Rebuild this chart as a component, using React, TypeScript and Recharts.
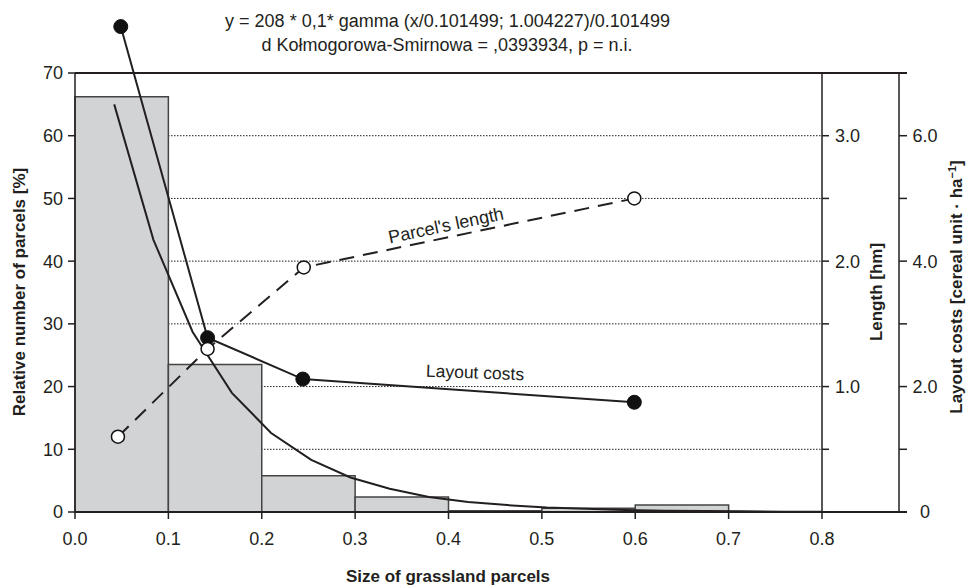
import React from "react";
import {
  ComposedChart,
  XAxis,
  YAxis,
  CartesianGrid,
  Line,
  ReferenceArea,
  ReferenceLine,
} from "recharts";

// axis ticks
const sizeTicks = [0, 0.1, 0.2, 0.3, 0.4, 0.5, 0.6, 0.7, 0.8];
const percentTicks = [0, 10, 20, 30, 40, 50, 60, 70];
const lengthTicks = [0, 0.5, 1, 1.5, 2, 2.5, 3, 3.5];
const lengthTickLabels = ["", "", "1.0", "", "2.0", "", "3.0", ""];
const costTicks = [0, 1, 2, 3, 4, 5, 6, 7];
const costTickLabels = ["0", "", "2.0", "", "4.0", "", "6.0", ""];

// histogram of parcel sizes
const binFrom = [0, 0.1, 0.2, 0.3, 0.4, 0.5, 0.6, 0.7];
const binTo = [0.1, 0.2, 0.3, 0.4, 0.5, 0.6, 0.7, 0.8];
const binPercent = [66.2, 23.5, 5.8, 2.4, 0.2, 0.6, 1.1, 0];

// fitted gamma curve
const fitSize = [0.042, 0.084, 0.126, 0.168, 0.21, 0.253, 0.295, 0.337, 0.379, 0.421, 0.463, 0.505, 0.547, 0.589, 0.632, 0.674, 0.716, 0.758, 0.8];
const fitPercent = [65, 43.4, 28.7, 19.0, 12.6, 8.3, 5.5, 3.7, 2.4, 1.6, 1.1, 0.7, 0.5, 0.3, 0.2, 0.15, 0.1, 0.05, 0.03];

// layout costs [cereal unit / ha]
const costSize = [0.049, 0.142, 0.244, 0.599];
const costValue = [7.74, 2.78, 2.12, 1.75];

// parcel length [hm]
const lengthSize = [0.046, 0.142, 0.245, 0.599];
const lengthValue = [0.6, 1.3, 1.95, 2.5];

const fitData = fitSize.map((s, i) => ({ size: s, percent: fitPercent[i] }));
const costData = costSize.map((s, i) => ({ size: s, cost: costValue[i] }));
const lengthData = lengthSize.map((s, i) => ({ size: s, length: lengthValue[i] }));

const W = 971;
const H = 588;
const PLOT_LEFT = 75;
const PLOT_RIGHT = 822;
const PLOT_BOTTOM = 512;
const TOP_70 = 73;
const TOP = PLOT_BOTTOM - ((PLOT_BOTTOM - TOP_70) * 80) / 70;
const xAt = (px: number) => (0.8 * (px - PLOT_LEFT)) / (PLOT_RIGHT - PLOT_LEFT);
const AXIS2 = xAt(899);
const FRAME_END = xAt(907);

const ink = "#231f20";
const tickFont = { fontSize: 18, fill: ink };
const tickLine = { stroke: ink, strokeWidth: 1.5 };

const abs = (left: number, top: number, extra: React.CSSProperties = {}): React.CSSProperties => ({
  position: "absolute",
  left,
  top,
  whiteSpace: "nowrap",
  transform: "translate(-50%, -50%)",
  ...extra,
});

function CostTick(props: any) {
  const { x, y, index } = props;
  return (
    <text x={x + 18} y={y} dy="0.355em" textAnchor="middle" fontSize={18} fill={ink}>
      {costTickLabels[index]}
    </text>
  );
}

export default function App() {
  return (
    <div
      style={{
        position: "absolute",
        left: 0,
        top: 0,
        width: W,
        height: H,
        fontFamily: "'Liberation Sans', Arial, sans-serif",
        color: ink,
        background: "#fff",
      }}
    >
      <ComposedChart width={W} height={H} margin={{ top: TOP, right: 0, bottom: 0, left: 0 }}>
        <XAxis
          xAxisId="x"
          type="number"
          dataKey="size"
          domain={[0, 0.8]}
          ticks={sizeTicks}
          tickFormatter={(v: number) => v.toFixed(1)}
          axisLine={false}
          tickLine={tickLine}
          tickSize={7}
          tickMargin={13}
          tick={tickFont}
          height={76}
          interval={0}
        />
        <YAxis
          yAxisId="a-left"
          type="number"
          domain={[0, 80]}
          allowDataOverflow
          ticks={percentTicks}
          axisLine={false}
          tickLine={tickLine}
          tickSize={7}
          tickMargin={5}
          tick={tickFont}
          width={75}
          interval={0}
        />
        <YAxis
          yAxisId="b-length"
          orientation="right"
          type="number"
          domain={[0, 4]}
          ticks={lengthTicks}
          tickFormatter={(v: number) => lengthTickLabels[lengthTicks.indexOf(v)] ?? ""}
          axisLine={false}
          tickLine={tickLine}
          tickSize={7}
          tickMargin={6}
          tick={tickFont}
          width={77}
          interval={0}
        />
        <YAxis
          yAxisId="c-cost"
          orientation="right"
          type="number"
          domain={[0, 8]}
          ticks={costTicks}
          axisLine={false}
          tickLine={tickLine}
          tickSize={8}
          tickMargin={0}
          tick={<CostTick />}
          width={72}
          interval={0}
        />
        <CartesianGrid
          xAxisId="x"
          yAxisId="a-left"
          vertical={false}
          horizontalValues={[10, 20, 30, 40, 50, 60]}
          stroke={ink}
          strokeDasharray="1.5 1.5"
        />
        {binFrom.map((from, i) => (
          <ReferenceArea
            key={i}
            xAxisId="x"
            yAxisId="a-left"
            x1={from}
            x2={binTo[i]}
            y1={0}
            y2={binPercent[i]}
            fill="#d1d3d4"
            fillOpacity={1}
            stroke="#444"
            strokeWidth={1.5}
            ifOverflow="visible"
          />
        ))}
        {/* frame: top and bottom run out to the outer axis ticks */}
        <ReferenceLine xAxisId="x" yAxisId="a-left" segment={[{ x: 0, y: 70 }, { x: FRAME_END, y: 70 }]} stroke={ink} strokeWidth={2} ifOverflow="visible" />
        <ReferenceLine xAxisId="x" yAxisId="a-left" segment={[{ x: 0, y: 0 }, { x: FRAME_END, y: 0 }]} stroke={ink} strokeWidth={2} ifOverflow="visible" />
        <ReferenceLine xAxisId="x" yAxisId="a-left" segment={[{ x: 0, y: 0 }, { x: 0, y: 70 }]} stroke={ink} strokeWidth={1.5} ifOverflow="visible" />
        <ReferenceLine xAxisId="x" yAxisId="a-left" segment={[{ x: 0.8, y: 0 }, { x: 0.8, y: 70 }]} stroke={ink} strokeWidth={1.5} ifOverflow="visible" />
        <ReferenceLine xAxisId="x" yAxisId="a-left" segment={[{ x: AXIS2, y: 0 }, { x: AXIS2, y: 70 }]} stroke={ink} strokeWidth={1.5} ifOverflow="visible" />
        <Line
          xAxisId="x"
          yAxisId="a-left"
          data={fitData}
          dataKey="percent"
          type="linear"
          stroke={ink}
          strokeWidth={2}
          dot={false}
          activeDot={false}
          isAnimationActive={false}
        />
        <Line
          xAxisId="x"
          yAxisId="c-cost"
          data={costData}
          dataKey="cost"
          type="linear"
          stroke={ink}
          strokeWidth={2}
          dot={{ r: 7, fill: "#111", stroke: "#111", strokeWidth: 1 }}
          activeDot={false}
          isAnimationActive={false}
        />
        <Line
          xAxisId="x"
          yAxisId="b-length"
          data={lengthData}
          dataKey="length"
          type="linear"
          stroke={ink}
          strokeWidth={2}
          strokeDasharray="15 9"
          dot={{ r: 6.5, fill: "#fff", stroke: "#111", strokeWidth: 1.5, strokeDasharray: "none" }}
          activeDot={false}
          isAnimationActive={false}
        />
      </ComposedChart>

      <div style={{ position: "absolute", left: 0, width: 895, top: 11.5, textAlign: "center", fontSize: 18, lineHeight: "18px" }}>
        y = 208 * 0,1* gamma (x/0.101499; 1.004227)/0.101499
      </div>
      <div style={{ position: "absolute", left: 0, width: 894, top: 35.5, textAlign: "center", fontSize: 18, lineHeight: "18px" }}>
        d Kołmogorowa-Smirnowa = ,0393934, p = n.i.
      </div>

      <div style={abs(20, 292, { fontSize: 17, fontWeight: 700, transform: "translate(-50%, -50%) rotate(-90deg)" })}>
        Relative number of parcels [%]
      </div>
      <div style={abs(448, 577, { fontSize: 17, fontWeight: 700 })}>Size of grassland parcels</div>
      <div style={abs(877, 292, { fontSize: 17, fontWeight: 700, transform: "translate(-50%, -50%) rotate(-90deg)" })}>
        Length [hm]
      </div>
      <div style={abs(957, 287, { fontSize: 17, fontWeight: 700, transform: "translate(-50%, -50%) rotate(-90deg)" })}>
        Layout costs [cereal unit · ha<sup style={{ fontSize: 11, verticalAlign: "6px", lineHeight: 0 }}>−1</sup>]
      </div>

      <div style={abs(446, 226, { fontSize: 18, transform: "translate(-50%, -50%) rotate(-12deg)" })}>Parcel's length</div>
      <div style={abs(475, 373, { fontSize: 17.5, transform: "translate(-50%, -50%) rotate(2deg)" })}>Layout costs</div>
    </div>
  );
}
